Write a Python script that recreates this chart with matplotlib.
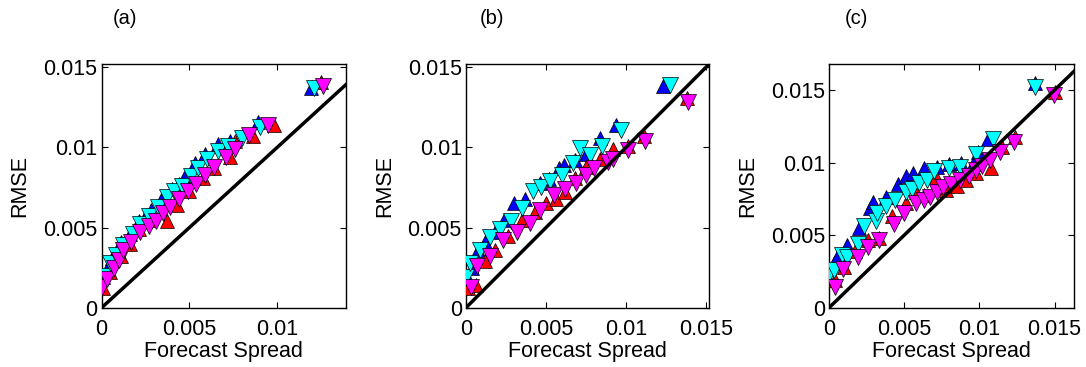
import matplotlib
matplotlib.use("Agg")
import matplotlib.pyplot as plt

plt.rcParams["font.family"] = ["Liberation Sans", "DejaVu Sans"]

# panel (a)
a_blue_x = [0.0001, 0.0003, 0.0006, 0.0011, 0.0016, 0.0021, 0.0025, 0.0028, 0.0034, 0.0040, 0.0044, 0.0047, 0.0053, 0.0059, 0.0066, 0.0073, 0.0089, 0.0119]
a_blue_y = [0.0019, 0.0024, 0.0031, 0.0041, 0.0046, 0.0054, 0.0058, 0.0061, 0.0067, 0.0074, 0.0077, 0.0081, 0.0090, 0.0096, 0.0102, 0.0104, 0.0116, 0.0137]
a_red_x = [0.0001, 0.0005, 0.0011, 0.0016, 0.0021, 0.0027, 0.0037, 0.0043, 0.0050, 0.0058, 0.0064, 0.0073, 0.0076, 0.0086, 0.0098, 0.0125]
a_red_y = [0.0012, 0.0022, 0.0032, 0.0040, 0.0049, 0.0055, 0.0054, 0.0064, 0.0073, 0.0081, 0.0087, 0.0094, 0.0104, 0.0107, 0.0114, 0.0141]
a_cyan_x = [0.0002, 0.0005, 0.0008, 0.0012, 0.0018, 0.0022, 0.0027, 0.0032, 0.0037, 0.0041, 0.0046, 0.0051, 0.0055, 0.0060, 0.0066, 0.0072, 0.0080, 0.0090, 0.0121]
a_cyan_y = [0.0020, 0.0028, 0.0033, 0.0039, 0.0046, 0.0052, 0.0057, 0.0063, 0.0069, 0.0073, 0.0076, 0.0082, 0.0087, 0.0093, 0.0098, 0.0101, 0.0106, 0.0113, 0.0137]
a_mag_x = [0.0000, 0.0003, 0.0007, 0.0010, 0.0012, 0.0017, 0.0022, 0.0027, 0.0031, 0.0035, 0.0039, 0.0044, 0.0049, 0.0054, 0.0059, 0.0064, 0.0071, 0.0076, 0.0084, 0.0095, 0.0126]
a_mag_y = [0.0013, 0.0018, 0.0025, 0.0030, 0.0036, 0.0041, 0.0047, 0.0051, 0.0054, 0.0059, 0.0063, 0.0068, 0.0073, 0.0077, 0.0083, 0.0088, 0.0094, 0.0099, 0.0108, 0.0114, 0.0138]

# panel (b)
b_blue_x = [0.0001, 0.0004, 0.00075, 0.0012, 0.0018, 0.0024, 0.0030, 0.0037, 0.0046, 0.0052, 0.0058, 0.0061, 0.0068, 0.0075, 0.0084, 0.0094, 0.0123]
b_blue_y = [0.0018, 0.0025, 0.0036, 0.0041, 0.0047, 0.0055, 0.0065, 0.0068, 0.0078, 0.0080, 0.0087, 0.0089, 0.0092, 0.0096, 0.0106, 0.0114, 0.0138]
b_red_x = [0.0001, 0.0006, 0.0012, 0.0018, 0.0026, 0.0035, 0.0043, 0.0050, 0.0056, 0.0062, 0.0068, 0.0075, 0.0084, 0.0092, 0.0101, 0.0111, 0.0138]
b_red_y = [0.0012, 0.0014, 0.0029, 0.0036, 0.0045, 0.0055, 0.0060, 0.0065, 0.0068, 0.0072, 0.0081, 0.0088, 0.0093, 0.0099, 0.0101, 0.0107, 0.0131]
b_cyan_x = [0.0000, 0.00025, 0.0009, 0.0015, 0.0021, 0.0028, 0.0035, 0.0042, 0.0047, 0.00525, 0.0060, 0.0067, 0.0071, 0.00775, 0.0085, 0.0097, 0.01275]
b_cyan_y = [0.0019, 0.0028, 0.0036, 0.0044, 0.0049, 0.0054, 0.0062, 0.0073, 0.0075, 0.0079, 0.0083, 0.0090, 0.00996, 0.0095, 0.0101, 0.0111, 0.0139]
b_mag_x = [0.0003, 0.0007, 0.0015, 0.0023, 0.0032, 0.0040, 0.0046, 0.0055, 0.0062, 0.0069, 0.0075, 0.0080, 0.0089, 0.0092, 0.0101, 0.0112, 0.0139]
b_mag_y = [0.0013, 0.0026, 0.0032, 0.0042, 0.00475, 0.0053, 0.0061, 0.0070, 0.0074, 0.0078, 0.0083, 0.0087, 0.0091, 0.0093, 0.00986, 0.0104, 0.0128]

# panel (c)
c_blue_x = [0.0000, 0.0003, 0.0006, 0.0012, 0.0020, 0.0027, 0.0029, 0.0038, 0.0046, 0.0051, 0.0056, 0.0063, 0.0072, 0.0080, 0.0088, 0.0096, 0.0099, 0.0106, 0.0137]
c_blue_y = [0.0019, 0.0031, 0.0036, 0.0043, 0.0055, 0.0069, 0.0073, 0.0076, 0.0085, 0.0091, 0.0093, 0.0096, 0.0097, 0.0099, 0.0100, 0.0099, 0.0107, 0.0116, 0.0155]
c_red_x = [0.0004, 0.0010, 0.0017, 0.0026, 0.0033, 0.0042, 0.0051, 0.0058, 0.0063, 0.0071, 0.0078, 0.0085, 0.0091, 0.0098, 0.0108, 0.01148, 0.01237, 0.0150]
c_red_y = [0.0019, 0.0028, 0.0039, 0.0047, 0.0048, 0.0063, 0.0072, 0.0080, 0.0078, 0.0090, 0.0081, 0.0084, 0.0088, 0.0093, 0.0096, 0.0111, 0.01176, 0.0149]
c_cyan_x = [0.0000, 0.0003, 0.00085, 0.0012, 0.0019, 0.0023, 0.0031, 0.0032, 0.0038, 0.0044, 0.0051, 0.0055, 0.0060, 0.0065, 0.0070, 0.0080, 0.0087, 0.0098, 0.0109, 0.0137]
c_cyan_y = [0.0023, 0.0026, 0.0036, 0.0035, 0.0044, 0.0056, 0.0060, 0.0065, 0.0070, 0.0074, 0.0080, 0.0082, 0.0086, 0.0088, 0.0094, 0.0096, 0.0097, 0.0106, 0.01165, 0.0152]
c_mag_x = [0.0004, 0.00096, 0.0019, 0.0026, 0.0033, 0.0043, 0.0050, 0.0058, 0.0063, 0.0067, 0.0072, 0.0076, 0.0081, 0.0087, 0.0093, 0.0098, 0.0102, 0.0107, 0.0114, 0.0123, 0.01495]
c_mag_y = [0.00145, 0.0027, 0.0035, 0.0042, 0.00466, 0.0058, 0.0065, 0.0072, 0.0074, 0.00763, 0.0080, 0.0083, 0.0085, 0.00878, 0.0091, 0.0095, 0.0098, 0.0102, 0.0107, 0.0114, 0.01463]

panels = [
    ("(a)", [0.0936, 0.1616, 0.2247, 0.664], 0.0139, 0.0152, [0, 0.005, 0.01],
     (a_blue_x, a_blue_y, a_red_x, a_red_y, a_cyan_x, a_cyan_y, a_mag_x, a_mag_y)),
    ("(b)", [0.4291, 0.1616, 0.2240, 0.664], 0.0152, 0.0152, [0, 0.005, 0.01, 0.015],
     (b_blue_x, b_blue_y, b_red_x, b_red_y, b_cyan_x, b_cyan_y, b_mag_x, b_mag_y)),
    ("(c)", [0.7634, 0.1616, 0.2256, 0.664], 0.0163, 0.0168, [0, 0.005, 0.01, 0.015],
     (c_blue_x, c_blue_y, c_red_x, c_red_y, c_cyan_x, c_cyan_y, c_mag_x, c_mag_y)),
]
title_x = [125, 492, 856]

fig = plt.figure(figsize=(10.86, 3.67), dpi=100)

for i, (label, rect, xmax, ymax, xticks, d) in enumerate(panels):
    ax = fig.add_axes(rect)
    bx, by, rx, ry, cx, cy, mx, my = d
    ax.plot(bx, by, "^", color="blue", mec="black", mew=0.5, ms=10, zorder=3)
    ax.plot(rx, ry, "^", color="red", mec="black", mew=0.5, ms=10, zorder=3)
    ax.plot(cx, cy, "v", color="cyan", mec="black", mew=0.5, ms=12, zorder=3)
    ax.plot(mx, my, "v", color="magenta", mec="black", mew=0.5, ms=12, zorder=3)
    ax.plot([0, 0.02], [0, 0.02], color="black", lw=2.5, zorder=4)
    ax.set_xlim(0, xmax)
    ax.set_ylim(0, ymax)
    ax.set_xticks(xticks)
    ax.set_xticklabels([("%g" % t) for t in xticks])
    ax.set_yticks([0, 0.005, 0.01, 0.015])
    ax.set_yticklabels(["0", "0.005", "0.01", "0.015"])
    ax.tick_params(direction="in", top=True, right=True, labelsize=15.5, length=4)
    ax.tick_params(axis="x", pad=8)
    ax.tick_params(axis="y", pad=3)
    for s in ax.spines.values():
        s.set_linewidth(1.0)
    ax.set_xlabel("Forecast Spread", fontsize=15.5, labelpad=1)
    ax.set_ylabel("RMSE", fontsize=15.5, labelpad=9)
    fig.text(title_x[i] / 1086, 1 - 18 / 367, label, fontsize=14.5, ha="center", va="center")

fig.savefig("out.png", dpi=100)
